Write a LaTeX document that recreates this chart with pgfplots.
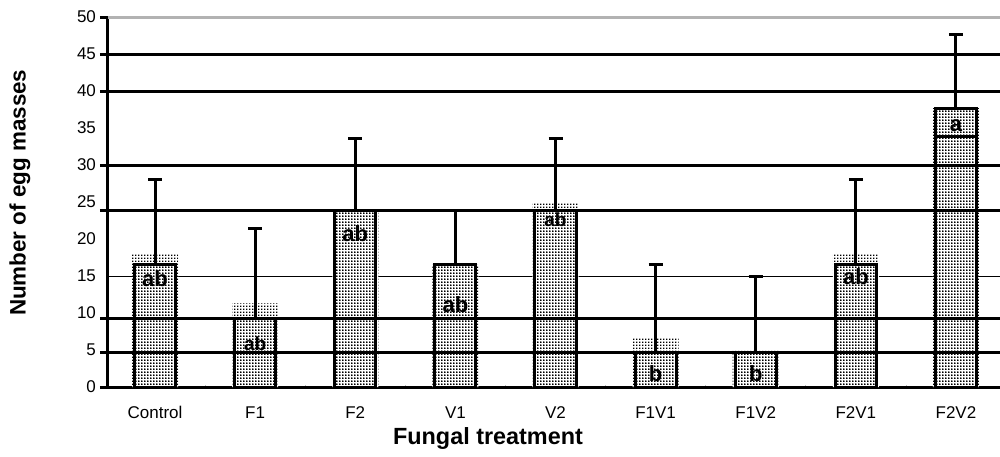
\documentclass[border=0pt]{standalone}
\usepackage{pgfplots}
\pgfplotsset{compat=1.18}
\usepackage{pgfplotstable}
\usepackage{fontspec}
\setmainfont{Liberation Sans}
\usetikzlibrary{patterns.meta}
\tikzdeclarepattern{
  name=finedots,
  type=uncolored,
  bottom left={(0pt,0pt)},
  top right={(1.5pt,1.5pt)},
  tile size={(1.5pt,1.5pt)},
  code={\fill (0pt,0pt) rectangle (0.85pt,0.85pt);}
}

\pgfplotstableread{
x top ext e
0 16.5 18.0 11.5
1 9.3 11.3 12.1
2 23.8 23.8 9.8
3 16.5 16.5 7.3
4 23.8 25.0 9.8
5 4.7 6.6 11.8
6 4.7 4.9 10.3
7 16.5 18.1 11.5
8 37.7 37.7 9.9
}\data

\pgfplotstableread{
x y lab
0 14.7 ab
2 20.7 ab
3 11.1 ab
5 1.8 b
6 1.8 b
7 14.9 ab
8 35.3 a
}\labbig

\pgfplotstableread{
x y lab
1 5.9 ab
4 22.6 ab
}\labsmall

\begin{document}
\begin{tikzpicture}
\useasboundingbox (-54pt,-34.5pt) rectangle (446pt,193.5pt);
\begin{axis}[
  scale only axis, width=446pt, height=185pt,
  xmin=-0.47, xmax=8.44, ymin=0, ymax=50,
  clip=false,
  axis x line=bottom, axis y line=left,
  axis line style={-, line width=1.5pt},
  xtick={0,...,8},
  xticklabels={Control,F1,F2,V1,V2,F1V1,F1V2,F2V1,F2V2},
  ytick={0,5,...,50},
  major tick length=0pt,
  minor xtick={0.5,1.5,...,7.5},
  minor tick length=2pt,
  minor tick style={gray!50, line width=0.4pt},
  tick label style={font=\fontsize{8.5}{10}\selectfont},
  yticklabel style={xshift=-2.5pt},
  xticklabel style={yshift=-6pt, text height=6.2pt, text depth=0pt},
  /pgf/number format/assume math mode=true,
  xlabel={Fungal treatment},
  ylabel={Number of egg masses},
  xlabel style={font=\bfseries\fontsize{11.7}{13}\selectfont, at={(axis description cs:0.426,-0.14)}, anchor=center},
  ylabel style={font=\bfseries\fontsize{11.2}{13}\selectfont, at={(axis description cs:-0.0987,0.525)}, anchor=center},
]
% thin line behind bars
\addplot[black, line width=0.5pt, mark=none] coordinates {(-0.47,15) (8.44,15)};
% white backgrounds
\addplot[ybar, bar width=0.46, bar shift=0pt, draw=none, fill=white] table[x=x,y=ext]{\data};
% stipple extensions
\addplot[ybar, bar width=0.46, bar shift=0pt, draw=none, pattern=finedots, pattern color=black] table[x=x,y=ext]{\data};
% main bars
\addplot[ybar, bar width=0.41, bar shift=0pt, draw=black, line width=1.5pt, pattern=finedots, pattern color=black] table[x=x,y=top]{\data};
% thick gridlines on top
\addplot[black, line width=1.5pt, mark=none] coordinates {(-0.55,45) (8.44,45)};
\addplot[black, line width=1.5pt, mark=none] coordinates {(-0.55,40) (8.44,40)};
\addplot[black, line width=1.5pt, mark=none] coordinates {(-0.55,30) (8.44,30)};
\addplot[black, line width=1.5pt, mark=none] coordinates {(-0.55,23.8) (8.44,23.8)};
\addplot[black, line width=1.5pt, mark=none] coordinates {(-0.55,9.3) (8.44,9.3)};
\addplot[black, line width=1.5pt, mark=none] coordinates {(-0.55,4.7) (8.44,4.7)};
\addplot[black, line width=1.5pt, mark=none] coordinates {(-0.55,0) (-0.47,0)};
\addplot[black, line width=1.5pt, mark=none] coordinates {(-0.55,50) (-0.47,50)};
\addplot[gray!60, line width=1.5pt, mark=none] coordinates {(-0.47,50) (8.44,50)};
% inner line on F2V2
\addplot[black, line width=1.5pt, mark=none] coordinates {(7.795,33.8) (8.205,33.8)};
% error bars
\addplot[draw=none, mark=none, error bars/.cd, y dir=plus, y explicit,
  error bar style={draw=black, line width=1.5pt},
  error mark options={draw=black, rotate=90, mark size=3.5pt, line width=1.5pt}]
  table[x=x, y=top, y error=e]{\data};
% letters
\addplot[only marks, mark=none, point meta=explicit symbolic, nodes near coords,
  every node near coord/.append style={anchor=center, font=\bfseries\fontsize{11}{13}\selectfont, inner sep=0pt}]
  table[x=x, y=y, meta=lab]{\labbig};
\addplot[only marks, mark=none, point meta=explicit symbolic, nodes near coords,
  every node near coord/.append style={anchor=center, font=\bfseries\fontsize{9.5}{11}\selectfont, inner sep=0pt}]
  table[x=x, y=y, meta=lab]{\labsmall};
\end{axis}
\end{tikzpicture}
\end{document}
